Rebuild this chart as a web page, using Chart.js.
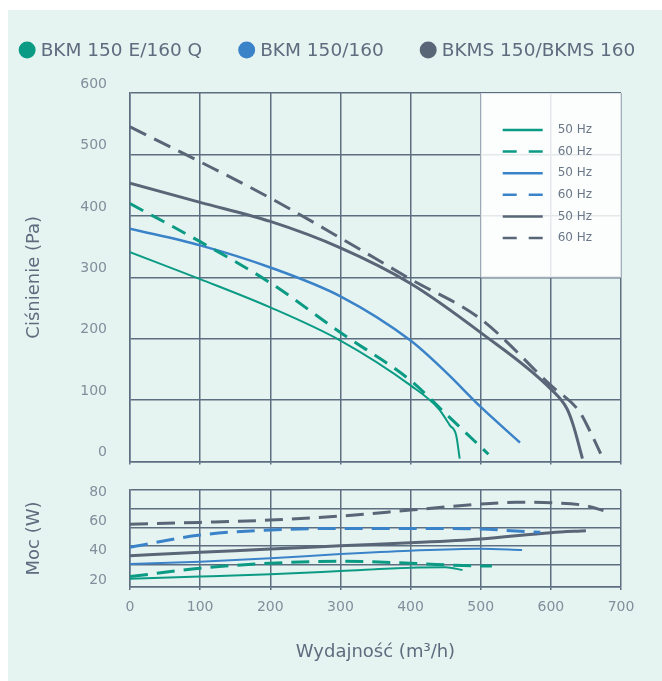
<!DOCTYPE html>
<html>
<head>
<meta charset="utf-8">
<script src="https://cdn.jsdelivr.net/npm/chart.js@4/dist/chart.umd.min.js"></script>
<style>
    html, body { margin: 0; padding: 0; background: #fff; }
    #panel { position: absolute; left: 8px; top: 10px; width: 654px; height: 671px; background: #e6f4f1; }
    #pressure { position: absolute; left: 0; top: 0; }
    #power { position: absolute; left: 0; top: 460px; }
</style>
</head>
<body>
<div id="panel">
    <canvas id="pressure" width="654" height="460"></canvas>
    <canvas id="power" width="654" height="211"></canvas>
</div>
<script>
// labels
var products = [ 'BKM 150 E/160 Q', 'BKM 150/160', 'BKMS 150/BKMS 160' ];
var freqLabels = [ '50 Hz', '60 Hz', '50 Hz', '60 Hz', '50 Hz', '60 Hz' ];

// ticks
var flowTicks = [ 0, 100, 200, 300, 400, 500, 600, 700 ];
var pressureTicks = [ 0, 100, 200, 300, 400, 500, 600 ];
var powerTicks = [ 20, 40, 60, 80 ];
var powerGrid = [ 15.2, 30.2, 43.2, 55.5, 68.4, 81.4 ];

// pressure curves (m3/h -> Pa)
var bkmE50Flow = [ 0, 100, 200, 300, 400, 440, 456, 465, 470 ];
var bkmE50Pa   = [ 341, 297, 251, 197, 124, 86, 59, 43, 5 ];
var bkmE60Flow = [ 0, 100, 200, 300, 400, 450, 511 ];
var bkmE60Pa   = [ 420, 358, 291, 210, 132, 78, 12 ];
var bkm50Flow  = [ 0, 100, 200, 300, 400, 450, 500, 556 ];
var bkm50Pa    = [ 379, 352, 316, 269, 197, 146, 89, 31 ];
var bkm60Flow  = [];   // no 60 Hz pressure curve drawn for BKM 150/160
var bkm60Pa    = [];
var bkms50Flow = [ 0, 100, 200, 300, 400, 500, 600, 623, 632, 645 ];
var bkms50Pa   = [ 453, 422, 391, 348, 290, 210, 118, 86, 59, 5 ];
var bkms60Flow = [ 0, 100, 200, 300, 400, 500, 600, 641, 656, 671 ];
var bkms60Pa   = [ 545, 488, 429, 364, 297, 232, 124, 81, 49, 13 ];

// power curves (m3/h -> W)
var pwE50Flow  = [ 0, 100, 200, 300, 400, 450, 474 ];
var pwE50W     = [ 20.9, 22.3, 23.9, 26.1, 28.4, 28.7, 26.8 ];
var pwE60Flow  = [ 0, 100, 200, 300, 400, 500, 516 ];
var pwE60W     = [ 22.3, 28, 31.4, 32.8, 31.4, 29.6, 29.6 ];
var pw50Flow   = [ 0, 100, 200, 300, 400, 500, 559 ];
var pw50W      = [ 30.9, 32.5, 34.8, 37.7, 40, 41.3, 40.5 ];
var pw60Flow   = [ 0, 100, 200, 300, 400, 500, 550, 585 ];
var pw60W      = [ 42.3, 50.7, 54.1, 55.2, 55.2, 54.8, 53.4, 52.5 ];
var pwS50Flow  = [ 0, 100, 200, 300, 400, 500, 600, 650 ];
var pwS50W     = [ 36.6, 38.9, 41.1, 43.4, 45.4, 48, 52.3, 53.6 ];
var pwS60Flow  = [ 0, 100, 200, 300, 400, 500, 550, 600, 650, 675 ];
var pwS60W     = [ 58, 59.3, 60.9, 63.6, 67.7, 71.8, 73, 72.7, 70.7, 67.3 ];

var green = '#0b9b84';
var blue = '#3b83c9';
var gray = '#596678';
var productColors = [ green, blue, gray ];
var gridColor = '#5e6e81';
var tickColor = '#818e9c';
var textColor = '#5d6c7e';

Chart.defaults.font.family = 'DejaVu Sans';

function points( xs, ys ) {
    return xs.map( function( x, i ) { return { x: x, y: ys[i] }; } );
}

function line( xs, ys, color, dash, width ) {
    return {
        data: points( xs, ys ),
        borderColor: color,
        borderWidth: width,
        borderDash: dash || [],
        fill: false
    };
}

function fixedTicks( list ) {
    return function( scale ) {
        scale.ticks = list.map( function( v ) { return { value: v }; } );
    };
}

// legend with product dots above the chart
var productLegend = {
    id: 'productLegend',
    afterDraw: function( chart ) {
        var ctx = chart.ctx;
        ctx.save();
        ctx.font = '18.5px "DejaVu Sans"';
        ctx.textBaseline = 'middle';
        var widths = products.map( function( p ) { return 22 + ctx.measureText( p ).width; } );
        var total = widths.reduce( function( a, b ) { return a + b; }, 0 ) + 36 * ( products.length - 1 );
        var x = chart.width / 2 - 8 - total / 2;
        var y = 40;
        products.forEach( function( p, i ) {
            ctx.fillStyle = productColors[i];
            ctx.beginPath();
            ctx.arc( x + 8.5, y, 8.5, 0, Math.PI * 2 );
            ctx.fill();
            ctx.fillStyle = textColor;
            ctx.fillText( p, x + 22, y + 1 );
            x += widths[i] + 36;
        } );
        ctx.restore();
    }
};

// white box with the 50/60 Hz line samples
var hzLegend = {
    id: 'hzLegend',
    beforeDatasetsDraw: function( chart ) {
        var ctx = chart.ctx;
        var left = chart.scales.x.getPixelForValue( 500 );
        var right = chart.chartArea.right;
        var top = chart.chartArea.top;
        var bottom = chart.scales.y.getPixelForValue( 300 );
        ctx.save();
        ctx.fillStyle = 'rgba(255,255,255,0.84)';
        ctx.fillRect( left, top, right - left, bottom - top );
        ctx.strokeStyle = '#dde3e7';
        ctx.lineWidth = 1;
        ctx.strokeRect( left + 0.5, top + 0.5, right - left - 1, bottom - top - 1 );
        ctx.font = '12px "DejaVu Sans"';
        ctx.textBaseline = 'middle';
        chart.data.datasets.forEach( function( ds, i ) {
            var y = top + 37 + i * 21.6;
            ctx.strokeStyle = ds.borderColor;
            ctx.lineWidth = 2.5;
            ctx.setLineDash( ds.borderDash.length ? [ 14, 12 ] : [] );
            ctx.beginPath();
            ctx.moveTo( left + 22, y );
            ctx.lineTo( left + 62, y );
            ctx.stroke();
            ctx.fillStyle = '#6a7787';
            ctx.fillText( freqLabels[i], left + 77, y );
        } );
        ctx.restore();
    }
};

// tick labels sit 23px left of the axis: done with invisible tick marks,
// because ticks.padding also pads the chart area vertically
var yGrid = { color: gridColor, lineWidth: 1.5, tickLength: 23, tickColor: 'rgba(0,0,0,0)' };
var yTickFont = { size: 14 };

new Chart( document.getElementById( 'pressure' ), {
    type: 'line',
    data: {
        datasets: [
            line( bkmE50Flow, bkmE50Pa, green, null, 2 ),
            line( bkmE60Flow, bkmE60Pa, green, [ 15, 9 ], 3 ),
            line( bkm50Flow, bkm50Pa, blue, null, 2.5 ),
            line( bkm60Flow, bkm60Pa, blue, [ 15, 9 ], 3 ),
            line( bkms50Flow, bkms50Pa, gray, null, 3 ),
            line( bkms60Flow, bkms60Pa, gray, [ 18, 9 ], 3 )
        ]
    },
    options: {
        responsive: false,
        animation: false,
        layout: { padding: { top: 83, right: 41, left: 0, bottom: 0 } },
        elements: {
            point: { radius: 0 },
            line: { cubicInterpolationMode: 'monotone' }
        },
        plugins: {
            legend: { display: false },
            tooltip: { enabled: false }
        },
        scales: {
            x: {
                type: 'linear',
                min: 0,
                max: 700,
                afterBuildTicks: fixedTicks( flowTicks ),
                ticks: { display: false },
                grid: { color: gridColor, lineWidth: 1.5, tickLength: 3 },
                border: { color: gridColor, width: 1.5 },
                afterFit: function( s ) { s.height = 7; }
            },
            y: {
                min: 0,
                max: 600,
                afterBuildTicks: fixedTicks( pressureTicks ),
                ticks: { color: tickColor, font: yTickFont, padding: 0, labelOffset: -9 },
                grid: yGrid,
                border: { color: gridColor, width: 1.5 },
                title: { display: true, text: 'Ciśnienie (Pa)', color: textColor, font: { size: 18 }, padding: { top: 16, bottom: 0 } },
                afterFit: function( s ) { s.width = 122; }
            }
        }
    },
    plugins: [ productLegend, hzLegend ]
} );

new Chart( document.getElementById( 'power' ), {
    type: 'line',
    data: {
        datasets: [
            line( pwE50Flow, pwE50W, green, null, 2 ),
            line( pwE60Flow, pwE60W, green, [ 18, 9 ], 3 ),
            line( pw50Flow, pw50W, blue, null, 2 ),
            line( pw60Flow, pw60W, blue, [ 18, 9 ], 3 ),
            line( pwS50Flow, pwS50W, gray, null, 3 ),
            line( pwS60Flow, pwS60W, gray, [ 18, 9 ], 3 )
        ]
    },
    options: {
        responsive: false,
        animation: false,
        layout: { padding: { top: 20, right: 41, left: 0, bottom: 0 } },
        elements: {
            point: { radius: 0 },
            line: { cubicInterpolationMode: 'monotone' }
        },
        plugins: {
            legend: { display: false },
            tooltip: { enabled: false }
        },
        scales: {
            x: {
                type: 'linear',
                min: 0,
                max: 700,
                afterBuildTicks: fixedTicks( flowTicks ),
                ticks: { color: tickColor, font: { size: 14 }, padding: 9 },
                grid: { color: gridColor, lineWidth: 1.5, tickLength: 3 },
                border: { color: gridColor, width: 1.5 },
                title: { display: true, text: 'Wydajność (m³/h)', color: textColor, font: { size: 18 }, padding: { top: 4, bottom: 18 } },
                afterFit: function( s ) { s.height = 94; }
            },
            y: {
                min: 15.2,
                max: 81.4,
                weight: 0,
                afterBuildTicks: fixedTicks( powerGrid ),
                ticks: { display: false },
                grid: { color: gridColor, lineWidth: 1.5, drawTicks: false },
                border: { color: gridColor, width: 1.5 },
                afterFit: function( s ) { s.width = 0; }
            },
            yl: {
                position: 'left',
                min: 15.2,
                max: 81.4,
                weight: 1,
                afterBuildTicks: fixedTicks( powerTicks ),
                ticks: { color: tickColor, font: yTickFont, padding: 0 },
                grid: { display: false, drawOnChartArea: false, tickLength: 23 },
                border: { display: false },
                title: { display: true, text: 'Moc (W)', color: textColor, font: { size: 18 }, padding: { top: 16, bottom: 0 } },
                afterFit: function( s ) { s.width = 122; }
            }
        }
    }
} );
</script>
</body>
</html>
